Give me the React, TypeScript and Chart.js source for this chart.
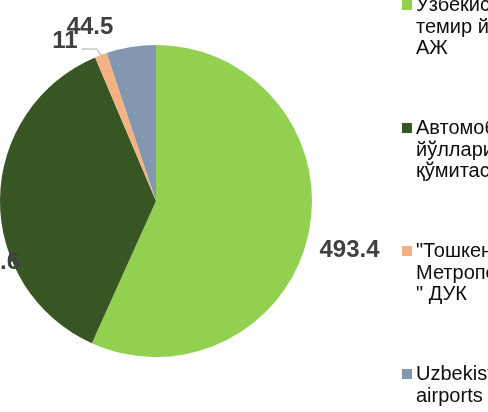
import React, { useEffect, useRef } from "react";
import { Chart, registerables } from "chart.js";

Chart.register(...registerables);

const categoryLines: string[][] = [
  ["Ўзбекистон", "темир йўллари", "АЖ"],
  ["Автомобиль", "йўллари", "қўмитаси"],
  ["\"Тошкент", "Метрополитени", "\" ДУК"],
  ["Uzbekistan", "airports"],
];
const values: number[] = [493.4, 320.6, 11, 44.5];
const valueLabels: string[] = ["493.4", "320.6", "11", "44.5"];
const colors: string[] = ["#92D050", "#375623", "#F4B183", "#8497B0"];

// label placement offsets (px) from the outer mid-point of each slice
const labelOffsets: [number, number][] = [
  [41, 17],
  [-10, 63],
  [-36, -14],
  [-41, -20],
];

const SHIFT = 40; // canvas is shifted left by this amount inside the frame

const labelPlugin = {
  id: "pieLabels",
  afterDatasetsDraw(chart: any) {
    const ctx = chart.ctx as CanvasRenderingContext2D;
    const meta = chart.getDatasetMeta(0);
    ctx.save();
    meta.data.forEach((arc: any, i: number) => {
      const p = arc.getProps(["x", "y", "startAngle", "endAngle", "outerRadius"], true);
      const mid = (p.startAngle + p.endAngle) / 2;
      const ox = p.x + Math.cos(mid) * p.outerRadius;
      const oy = p.y + Math.sin(mid) * p.outerRadius;
      const [dx, dy] = labelOffsets[i];
      const lx = ox + dx;
      const ly = oy + dy;
      if (i === 2) {
        ctx.strokeStyle = "#A6A6A6";
        ctx.lineWidth = 1;
        ctx.beginPath();
        ctx.moveTo(ox - 19, oy - 6);
        ctx.lineTo(ox - 4, oy - 6);
        ctx.lineTo(ox, oy);
        ctx.stroke();
      }
      ctx.font = "bold 24px 'Liberation Sans', Arial, sans-serif";
      ctx.fillStyle = "#404040";
      ctx.textAlign = "center";
      ctx.textBaseline = "middle";
      ctx.fillText(valueLabels[i], lx, ly);
    });
    ctx.restore();
  },
};

const legendPlugin = {
  id: "customLegend",
  afterDraw(chart: any) {
    const ctx = chart.ctx as CanvasRenderingContext2D;
    ctx.save();
    ctx.font = "20px 'Liberation Sans', Arial, sans-serif";
    ctx.textAlign = "left";
    ctx.textBaseline = "alphabetic";
    categoryLines.forEach((lines, i) => {
      const baseline = 11 + i * 123;
      ctx.fillStyle = colors[i];
      ctx.fillRect(402 + SHIFT, baseline - 11, 10, 10);
      ctx.fillStyle = "#0d0d0d";
      lines.forEach((ln, j) => {
        ctx.fillText(ln, 416 + SHIFT, baseline + j * 21.5);
      });
    });
    ctx.restore();
  },
};

export default function App() {
  const ref = useRef<HTMLCanvasElement | null>(null);
  useEffect(() => {
    if (!ref.current) return;
    const chart = new Chart(ref.current, {
      type: "pie",
      data: {
        labels: categoryLines.map((l) => l.join(" ")),
        datasets: [
          {
            data: values,
            backgroundColor: colors,
            borderWidth: 0,
          },
        ],
      },
      options: {
        animation: false,
        responsive: false,
        devicePixelRatio: 1,
        layout: { padding: { left: 40, right: 248, top: 45, bottom: 55 } },
        plugins: {
          legend: { display: false },
          tooltip: { enabled: false },
        },
      },
      plugins: [labelPlugin, legendPlugin],
    });
    return () => chart.destroy();
  }, []);
  return (
    <div
      style={{
        position: "fixed",
        left: 0,
        top: 0,
        width: 488,
        height: 412,
        overflow: "hidden",
        background: "#fff",
      }}
    >
      <canvas
        ref={ref}
        width={600}
        height={412}
        style={{ position: "absolute", left: -SHIFT, top: 0, width: 600, height: 412 }}
      />
    </div>
  );
}
